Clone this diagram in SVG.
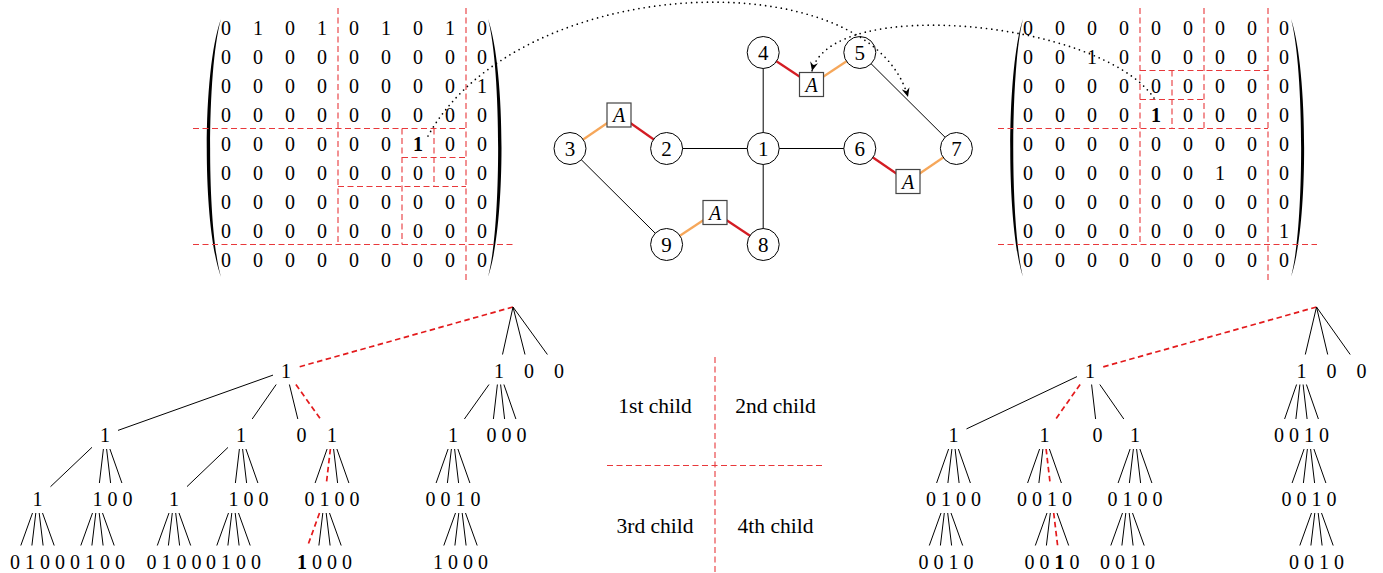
<svg xmlns="http://www.w3.org/2000/svg" width="1383" height="573" viewBox="0 0 1383 573" font-family="Liberation Serif, Times New Roman, serif">
<style>
text{font-family:"Liberation Serif",serif;fill:#000;text-anchor:middle}
.m{font-size:20px}
.t{font-size:20px}
.n{font-size:21px}
.lg{font-size:21.5px}
.a{font-size:20px;font-style:italic}
.b{font-weight:bold}
.e{stroke:#000;stroke-width:1;fill:none}
.r{stroke:#e31a1c;stroke-width:1.7;stroke-dasharray:5.5 3.5;fill:none}
.md{stroke:#e8383b;stroke-width:1.1;stroke-dasharray:6 3.5;fill:none}
.ge{stroke:#000;stroke-width:1;fill:none}
.or{stroke:#f6a75a;stroke-width:2.2;fill:none}
.rd{stroke:#d41c23;stroke-width:2.2;fill:none}
.nc{fill:#fff;stroke:#000;stroke-width:1}
.bx{fill:#fff;stroke:#444;stroke-width:1.2}
.dot{stroke:#000;stroke-width:1.7;stroke-dasharray:0 5.3;stroke-linecap:round;fill:none}
.par{fill:#000;stroke:none}
</style>
<defs>
<marker id="arr" viewBox="-9 -4 9 8" refX="0" refY="0" markerWidth="9" markerHeight="8" markerUnits="userSpaceOnUse" orient="auto">
<path d="M0,0 L-9,-4 L-6,0 L-9,4 Z" fill="#000" stroke="none"/>
</marker>
</defs>

<!-- Left matrix -->
<g id="matrix-left">
<path class="par" d="M221,19 C202,70 202,226 221,277 C206.5,226 206.5,70 221,19 Z"/>
<path class="par" d="M488,19 C506,70 506,226 488,277 C501.5,226 501.5,70 488,19 Z"/>
<g class="m">
<text x="226 242 258 274 290 306 322 338 354 370 386 402 418 434 450 466 482" y="34.5">0 1 0 1 0 1 0 1 0</text>
<text x="226 242 258 274 290 306 322 338 354 370 386 402 418 434 450 466 482" y="63.5">0 0 0 0 0 0 0 0 0</text>
<text x="226 242 258 274 290 306 322 338 354 370 386 402 418 434 450 466 482" y="92.5">0 0 0 0 0 0 0 0 1</text>
<text x="226 242 258 274 290 306 322 338 354 370 386 402 418 434 450 466 482" y="121.5">0 0 0 0 0 0 0 0 0</text>
<text x="226 242 258 274 290 306 322 338 354 370 386 402 418 434 450 466 482" y="150.5">0 0 0 0 0 0 <tspan class="b">1</tspan> 0 0</text>
<text x="226 242 258 274 290 306 322 338 354 370 386 402 418 434 450 466 482" y="179.5">0 0 0 0 0 0 0 0 0</text>
<text x="226 242 258 274 290 306 322 338 354 370 386 402 418 434 450 466 482" y="208.5">0 0 0 0 0 0 0 0 0</text>
<text x="226 242 258 274 290 306 322 338 354 370 386 402 418 434 450 466 482" y="237.5">0 0 0 0 0 0 0 0 0</text>
<text x="226 242 258 274 290 306 322 338 354 370 386 402 418 434 450 466 482" y="266.5">0 0 0 0 0 0 0 0 0</text>
</g>
<path class="md" d="M338,8 V244.5 M466,8 V283 M193,128.5 H466 M193,244.5 H513 M402,128.5 V244.5 M338,186.5 H466 M434,128.5 V186.5 M402,157.5 H466"/>
</g>

<!-- Right matrix -->
<g id="matrix-right">
<path class="par" d="M1023,19 C1006,70 1006,226 1023,277 C1010,226 1010,70 1023,19 Z"/>
<path class="par" d="M1291,19 C1308.5,70 1308.5,226 1291,277 C1304.5,226 1304.5,70 1291,19 Z"/>
<g class="m">
<text x="1028 1044 1060 1076 1092 1108 1124 1140 1156 1172 1188 1204 1220 1236 1252 1268 1284" y="34.5">0 0 0 0 0 0 0 0 0</text>
<text x="1028 1044 1060 1076 1092 1108 1124 1140 1156 1172 1188 1204 1220 1236 1252 1268 1284" y="63.5">0 0 1 0 0 0 0 0 0</text>
<text x="1028 1044 1060 1076 1092 1108 1124 1140 1156 1172 1188 1204 1220 1236 1252 1268 1284" y="92.5">0 0 0 0 0 0 0 0 0</text>
<text x="1028 1044 1060 1076 1092 1108 1124 1140 1156 1172 1188 1204 1220 1236 1252 1268 1284" y="121.5">0 0 0 0 <tspan class="b">1</tspan> 0 0 0 0</text>
<text x="1028 1044 1060 1076 1092 1108 1124 1140 1156 1172 1188 1204 1220 1236 1252 1268 1284" y="150.5">0 0 0 0 0 0 0 0 0</text>
<text x="1028 1044 1060 1076 1092 1108 1124 1140 1156 1172 1188 1204 1220 1236 1252 1268 1284" y="179.5">0 0 0 0 0 0 1 0 0</text>
<text x="1028 1044 1060 1076 1092 1108 1124 1140 1156 1172 1188 1204 1220 1236 1252 1268 1284" y="208.5">0 0 0 0 0 0 0 0 0</text>
<text x="1028 1044 1060 1076 1092 1108 1124 1140 1156 1172 1188 1204 1220 1236 1252 1268 1284" y="237.5">0 0 0 0 0 0 0 0 1</text>
<text x="1028 1044 1060 1076 1092 1108 1124 1140 1156 1172 1188 1204 1220 1236 1252 1268 1284" y="266.5">0 0 0 0 0 0 0 0 0</text>
</g>
<path class="md" d="M1140,8 V244.5 M1204,8 V128.5 M1268,8 V283 M998,128.5 H1268 M998,244.5 H1317 M1140,70.5 H1268 M1172,70.5 V128.5 M1140,99.5 H1204"/>
</g>

<!-- Graph connectors -->
<g id="graph-edges">
<line class="ge" x1="666.6" y1="148.5" x2="763.2" y2="148.5"/>
<line class="ge" x1="763.2" y1="148.5" x2="859.8" y2="148.5"/>
<line class="ge" x1="763.2" y1="52.5" x2="763.2" y2="148.5"/>
<line class="ge" x1="763.2" y1="148.5" x2="763.2" y2="244.5"/>
<line class="ge" x1="859.8" y1="52.5" x2="956.4" y2="148.5"/>
<line class="ge" x1="570" y1="148.5" x2="666.6" y2="244.5"/>
<line class="or" x1="570" y1="148.5" x2="619" y2="115"/>
<line class="rd" x1="619" y1="115" x2="666.6" y2="148.5"/>
<line class="rd" x1="763.2" y1="52.5" x2="811.5" y2="84.5"/>
<line class="or" x1="811.5" y1="84.5" x2="859.8" y2="52.5"/>
<line class="rd" x1="859.8" y1="148.5" x2="908" y2="181.5"/>
<line class="or" x1="908" y1="181.5" x2="956.4" y2="148.5"/>
<line class="or" x1="666.6" y1="244.5" x2="715" y2="212.5"/>
<line class="rd" x1="715" y1="212.5" x2="763.2" y2="244.5"/>
</g>
<g id="graph-nodes">
<g id="g1"><circle class="nc" cx="763.2" cy="148.5" r="16"/><text class="n" x="763.2" y="155.5">1</text></g>
<g id="g2"><circle class="nc" cx="666.6" cy="148.5" r="16"/><text class="n" x="666.6" y="155.5">2</text></g>
<g id="g3"><circle class="nc" cx="570" cy="148.5" r="16"/><text class="n" x="570" y="155.5">3</text></g>
<g id="g4"><circle class="nc" cx="763.2" cy="52.5" r="16"/><text class="n" x="763.2" y="59.5">4</text></g>
<g id="g5"><circle class="nc" cx="859.8" cy="52.5" r="16"/><text class="n" x="859.8" y="59.5">5</text></g>
<g id="g6"><circle class="nc" cx="859.8" cy="148.5" r="16"/><text class="n" x="859.8" y="155.5">6</text></g>
<g id="g7"><circle class="nc" cx="956.4" cy="148.5" r="16"/><text class="n" x="956.4" y="155.5">7</text></g>
<g id="g8"><circle class="nc" cx="763.2" cy="244.5" r="16"/><text class="n" x="763.2" y="251.5">8</text></g>
<g id="g9"><circle class="nc" cx="666.6" cy="244.5" r="16"/><text class="n" x="666.6" y="251.5">9</text></g>
<g id="A32"><rect class="bx" x="607" y="103" width="24" height="24"/><text class="a" x="619" y="122">A</text></g>
<g id="A45"><rect class="bx" x="799.5" y="72.5" width="24" height="24"/><text class="a" x="811.5" y="91.5">A</text></g>
<g id="A67"><rect class="bx" x="896" y="169.5" width="24" height="24"/><text class="a" x="908" y="188.5">A</text></g>
<g id="A98"><rect class="bx" x="703" y="200.5" width="24" height="24"/><text class="a" x="715" y="219.5">A</text></g>
</g>

<!-- dotted arrows -->
<g id="dotted-links">
<path class="dot" d="M428,136 C520,-30 870,-40 908,97" marker-end="url(#arr)"/>
<path class="dot" d="M1154,98 C1100,20 830,-5 812,71" marker-end="url(#arr)"/>
</g>

<!-- Legend -->
<g id="legend">
<path class="md" d="M715,357 V573 M607,465.5 H825"/>
<text class="lg" x="655" y="412.5">1st child</text>
<text class="lg" x="775.5" y="412.5">2nd child</text>
<text class="lg" x="655" y="533">3rd child</text>
<text class="lg" x="775.5" y="533">4th child</text>
</g>

<!-- Left tree connectors -->
<g id="tree-left-edges">
<line class="r" x1="513" y1="307" x2="299" y2="366.9"/>
<line class="e" x1="513" y1="307" x2="502.5" y2="354.5"/>
<line class="e" x1="513" y1="307" x2="525" y2="354.5"/>
<line class="e" x1="513" y1="307" x2="547.4" y2="354.5"/>
<line class="e" x1="273" y1="375.1" x2="118" y2="430.4"/>
<line class="e" x1="276.2" y1="384.5" x2="252.2" y2="419"/>
<line class="e" x1="289.4" y1="384.5" x2="297.8" y2="419"/>
<line class="r" x1="295.9" y1="384.5" x2="320.4" y2="419"/>
<line class="e" x1="489" y1="384.5" x2="464.4" y2="419"/>
<line class="e" x1="497.4" y1="384.5" x2="493.4" y2="419"/>
<line class="e" x1="500.6" y1="384.5" x2="504.6" y2="419"/>
<line class="e" x1="503.9" y1="384.5" x2="515.9" y2="419"/>
<line class="e" x1="92" y1="447.3" x2="50.5" y2="486.7"/>
<line class="e" x1="103.4" y1="449" x2="99.4" y2="483"/>
<line class="e" x1="106.6" y1="449" x2="110.6" y2="483"/>
<line class="e" x1="109.9" y1="449" x2="121.9" y2="483"/>
<line class="e" x1="228" y1="447.4" x2="187" y2="486.6"/>
<line class="e" x1="239.4" y1="449" x2="235.4" y2="483"/>
<line class="e" x1="242.6" y1="449" x2="246.6" y2="483"/>
<line class="e" x1="245.9" y1="449" x2="257.9" y2="483"/>
<line class="e" x1="327.1" y1="449" x2="315.1" y2="483"/>
<line class="r" x1="330.4" y1="449" x2="326.4" y2="483"/>
<line class="e" x1="333.6" y1="449" x2="337.6" y2="483"/>
<line class="e" x1="336.9" y1="449" x2="348.9" y2="483"/>
<line class="e" x1="448.1" y1="449" x2="436.1" y2="483"/>
<line class="e" x1="451.4" y1="449" x2="447.4" y2="483"/>
<line class="e" x1="454.6" y1="449" x2="458.6" y2="483"/>
<line class="e" x1="457.9" y1="449" x2="469.9" y2="483"/>
<line class="e" x1="32.5" y1="513" x2="20.8" y2="545.5"/>
<line class="e" x1="35.8" y1="513" x2="31.9" y2="545.5"/>
<line class="e" x1="39.2" y1="513" x2="43.1" y2="545.5"/>
<line class="e" x1="42.5" y1="513" x2="54.2" y2="545.5"/>
<line class="e" x1="92.5" y1="513" x2="80.8" y2="545.5"/>
<line class="e" x1="95.8" y1="513" x2="91.9" y2="545.5"/>
<line class="e" x1="99.2" y1="513" x2="103.1" y2="545.5"/>
<line class="e" x1="102.5" y1="513" x2="114.2" y2="545.5"/>
<line class="e" x1="169" y1="513" x2="157.3" y2="545.5"/>
<line class="e" x1="172.3" y1="513" x2="168.4" y2="545.5"/>
<line class="e" x1="175.7" y1="513" x2="179.6" y2="545.5"/>
<line class="e" x1="179" y1="513" x2="190.7" y2="545.5"/>
<line class="e" x1="228.5" y1="513" x2="216.8" y2="545.5"/>
<line class="e" x1="231.8" y1="513" x2="227.9" y2="545.5"/>
<line class="e" x1="235.2" y1="513" x2="239.1" y2="545.5"/>
<line class="e" x1="238.5" y1="513" x2="250.2" y2="545.5"/>
<line class="r" x1="319.5" y1="513" x2="307.8" y2="545.5"/>
<line class="e" x1="322.8" y1="513" x2="318.9" y2="545.5"/>
<line class="e" x1="326.2" y1="513" x2="330.1" y2="545.5"/>
<line class="e" x1="329.5" y1="513" x2="341.2" y2="545.5"/>
<line class="e" x1="455.5" y1="513" x2="443.8" y2="545.5"/>
<line class="e" x1="458.8" y1="513" x2="454.9" y2="545.5"/>
<line class="e" x1="462.2" y1="513" x2="466.1" y2="545.5"/>
<line class="e" x1="465.5" y1="513" x2="477.2" y2="545.5"/>
</g>
<g id="tree-left-nodes" class="t">
<text id="tl-1" x="286" y="377.5">1</text>
<text id="tl-2" x="499 514 529 544 559" y="377.5">1 0 0</text>
<text id="tl-3" x="105" y="442">1</text>
<text id="tl-4" x="241" y="442">1</text>
<text id="tl-5" x="301.5" y="442">0</text>
<text id="tl-6" x="332" y="442">1</text>
<text id="tl-7" x="453" y="442">1</text>
<text id="tl-8" x="491.5 499 506.5 514 521.5" y="442">0 0 0</text>
<text id="tl-9" x="37.5" y="506">1</text>
<text id="tl-10" x="97.5 105 112.5 120 127.5" y="506">1 0 0</text>
<text id="tl-11" x="174" y="506">1</text>
<text id="tl-12" x="233.5 241 248.5 256 263.5" y="506">1 0 0</text>
<text id="tl-13" x="309.5 317 324.5 332 339.5 347 354.5" y="506">0 1 0 0</text>
<text id="tl-14" x="430.5 438 445.5 453 460.5 468 475.5" y="506">0 0 1 0</text>
<text id="tl-15" x="15 22.5 30 37.5 45 52.5 60" y="568.5">0 1 0 0</text>
<text id="tl-16" x="75 82.5 90 97.5 105 112.5 120" y="568.5">0 1 0 0</text>
<text id="tl-17" x="151.5 159 166.5 174 181.5 189 196.5" y="568.5">0 1 0 0</text>
<text id="tl-18" x="211 218.5 226 233.5 241 248.5 256" y="568.5">0 1 0 0</text>
<text id="tl-19" x="302 309.5 317 324.5 332 339.5 347" y="568.5"><tspan class="b">1</tspan> 0 0 0</text>
<text id="tl-20" x="438 445.5 453 460.5 468 475.5 483" y="568.5">1 0 0 0</text>
</g>

<!-- Right tree connectors -->
<g id="tree-right-edges">
<line class="r" x1="1316.5" y1="307" x2="1103" y2="366.9"/>
<line class="e" x1="1316.5" y1="307" x2="1305.3" y2="354.5"/>
<line class="e" x1="1316.5" y1="307" x2="1327.7" y2="354.5"/>
<line class="e" x1="1316.5" y1="307" x2="1350.2" y2="354.5"/>
<line class="e" x1="1077" y1="376.6" x2="966.5" y2="428.9"/>
<line class="r" x1="1080.1" y1="384.5" x2="1055.8" y2="419"/>
<line class="e" x1="1091.6" y1="384.5" x2="1095.6" y2="419"/>
<line class="e" x1="1099.8" y1="384.5" x2="1123.8" y2="419"/>
<line class="e" x1="1296.6" y1="384.5" x2="1284.6" y2="419"/>
<line class="e" x1="1299.9" y1="384.5" x2="1295.9" y2="419"/>
<line class="e" x1="1303.1" y1="384.5" x2="1307.1" y2="419"/>
<line class="e" x1="1306.4" y1="384.5" x2="1318.4" y2="419"/>
<line class="e" x1="948.6" y1="449" x2="936.6" y2="483"/>
<line class="e" x1="951.9" y1="449" x2="947.9" y2="483"/>
<line class="e" x1="955.1" y1="449" x2="959.1" y2="483"/>
<line class="e" x1="958.4" y1="449" x2="970.4" y2="483"/>
<line class="e" x1="1039.6" y1="449" x2="1027.6" y2="483"/>
<line class="e" x1="1042.9" y1="449" x2="1038.9" y2="483"/>
<line class="r" x1="1046.1" y1="449" x2="1050.1" y2="483"/>
<line class="e" x1="1049.4" y1="449" x2="1061.4" y2="483"/>
<line class="e" x1="1130.1" y1="449" x2="1118.1" y2="483"/>
<line class="e" x1="1133.4" y1="449" x2="1129.4" y2="483"/>
<line class="e" x1="1136.6" y1="449" x2="1140.6" y2="483"/>
<line class="e" x1="1139.9" y1="449" x2="1151.9" y2="483"/>
<line class="e" x1="1304.1" y1="449" x2="1292.1" y2="483"/>
<line class="e" x1="1307.4" y1="449" x2="1303.4" y2="483"/>
<line class="e" x1="1310.6" y1="449" x2="1314.6" y2="483"/>
<line class="e" x1="1313.9" y1="449" x2="1325.9" y2="483"/>
<line class="e" x1="941" y1="513" x2="929.3" y2="545.5"/>
<line class="e" x1="944.3" y1="513" x2="940.4" y2="545.5"/>
<line class="e" x1="947.7" y1="513" x2="951.6" y2="545.5"/>
<line class="e" x1="951" y1="513" x2="962.7" y2="545.5"/>
<line class="e" x1="1047" y1="513" x2="1035.3" y2="545.5"/>
<line class="e" x1="1050.3" y1="513" x2="1046.4" y2="545.5"/>
<line class="r" x1="1053.7" y1="513" x2="1057.6" y2="545.5"/>
<line class="e" x1="1057" y1="513" x2="1068.7" y2="545.5"/>
<line class="e" x1="1122.5" y1="513" x2="1110.8" y2="545.5"/>
<line class="e" x1="1125.8" y1="513" x2="1121.9" y2="545.5"/>
<line class="e" x1="1129.2" y1="513" x2="1133.1" y2="545.5"/>
<line class="e" x1="1132.5" y1="513" x2="1144.2" y2="545.5"/>
<line class="e" x1="1311.5" y1="513" x2="1299.8" y2="545.5"/>
<line class="e" x1="1314.8" y1="513" x2="1310.9" y2="545.5"/>
<line class="e" x1="1318.2" y1="513" x2="1322.1" y2="545.5"/>
<line class="e" x1="1321.5" y1="513" x2="1333.2" y2="545.5"/>
</g>
<g id="tree-right-nodes" class="t">
<text id="tr-1" x="1090" y="377.5">1</text>
<text id="tr-2" x="1301.5 1316.5 1331.5 1346.5 1361.5" y="377.5">1 0 0</text>
<text id="tr-3" x="953.5" y="442">1</text>
<text id="tr-4" x="1044.5" y="442">1</text>
<text id="tr-5" x="1097.5" y="442">0</text>
<text id="tr-6" x="1135" y="442">1</text>
<text id="tr-7" x="1279 1286.5 1294 1301.5 1309 1316.5 1324" y="442">0 0 1 0</text>
<text id="tr-8" x="931 938.5 946 953.5 961 968.5 976" y="506">0 1 0 0</text>
<text id="tr-9" x="1022 1029.5 1037 1044.5 1052 1059.5 1067" y="506">0 0 1 0</text>
<text id="tr-10" x="1112.5 1120 1127.5 1135 1142.5 1150 1157.5" y="506">0 1 0 0</text>
<text id="tr-11" x="1286.5 1294 1301.5 1309 1316.5 1324 1331.5" y="506">0 0 1 0</text>
<text id="tr-12" x="923.5 931 938.5 946 953.5 961 968.5" y="568.5">0 0 1 0</text>
<text id="tr-13" x="1029.5 1037 1044.5 1052 1059.5 1067 1074.5" y="568.5">0 0 <tspan class="b">1</tspan> 0</text>
<text id="tr-14" x="1105 1112.5 1120 1127.5 1135 1142.5 1150" y="568.5">0 0 1 0</text>
<text id="tr-15" x="1294 1301.5 1309 1316.5 1324 1331.5 1339" y="568.5">0 0 1 0</text>
</g>
</svg>
